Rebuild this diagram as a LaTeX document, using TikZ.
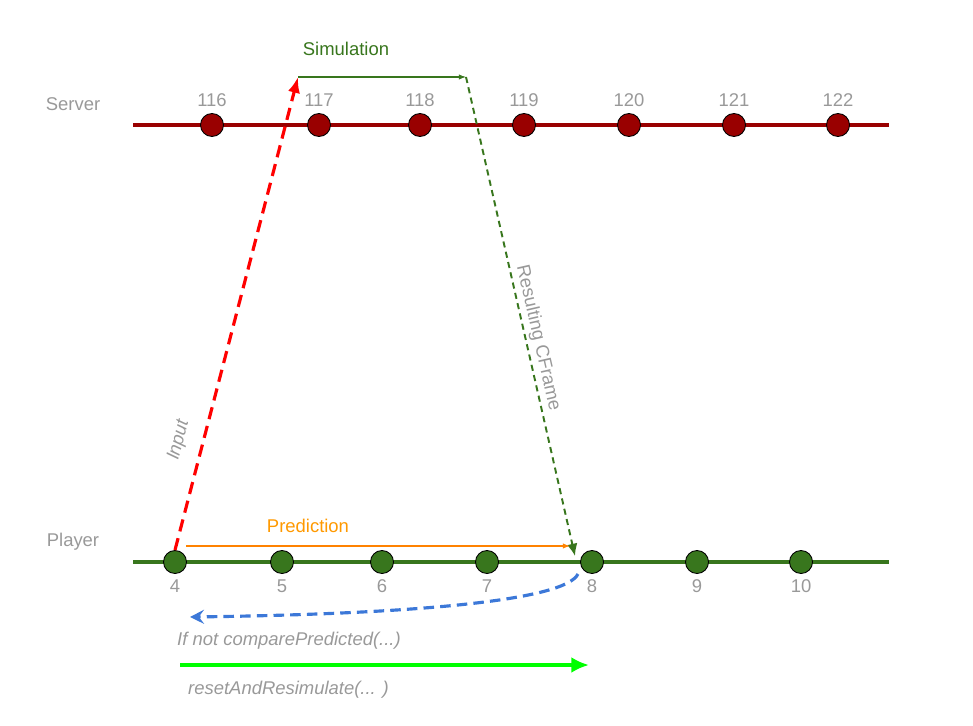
\documentclass[tikz,border=0pt]{standalone}
\usepackage{fontspec}
\setmainfont{Liberation Sans}
\usepackage{tikz}
\usetikzlibrary{arrows.meta}

\definecolor{srvred}{HTML}{990000}
\definecolor{plgreen}{HTML}{38761D}
\definecolor{txtgray}{HTML}{999999}
\definecolor{predorange}{HTML}{FF9900}
\definecolor{backblue}{HTML}{3C78D8}
\definecolor{resgreen}{HTML}{00FF00}

\tikzset{
  frame/.style={circle,draw=black,line width=.5pt,minimum size=.46cm,inner sep=0pt},
  lbl/.style={text=txtgray,font=\fontsize{10.5}{12}\selectfont},
}

\begin{document}
\begin{tikzpicture}[x=.02cm,y=-.02cm]
          \useasboundingbox (0,0) rectangle (973,726);

          % server timeline
          \node[lbl] (server) at (73,104) {Server};
          \draw[srvred,line width=2pt] (133,125) -- (889,125);
          \foreach \x/\n in {212/116,319/117,420/118,524/119,629/120,734/121,838/122}{
            \node[frame,fill=srvred] (s\n) at (\x,125) {};
            \node[lbl] at (\x,100) {\n};
          }

          % player timeline
          \node[lbl] (player) at (73,542) {Player};
          \draw[plgreen,line width=2pt] (133,562) -- (889,562);
          \foreach \x/\n in {175/4,282/5,382/6,487/7,592/8,697/9,801/10}{
            \node[frame,fill=plgreen] (p\n) at (\x,562) {};
            \node[lbl] at (\x,586) {\n};
          }

          % simulation on the server
          \coordinate (simstart) at (298,77);
          \coordinate (simend) at (466,77);
          \draw[plgreen,line width=.6pt,-{Latex[length=4pt,width=3pt]}] (simstart) -- (simend);
          \node[lbl,text=plgreen] (simlbl) at (346,49) {Simulation};

          % input
          \draw[red,line width=1.8pt,dash pattern=on 7pt off 4pt,-{Latex[length=9pt,width=7pt]}]
            (p4.north) -- (simstart);
          \node[lbl,rotate=75.7] (inputlbl) at (179,440) {\itshape Input};

          % resulting cframe
          \coordinate (cfend) at (575,556);
          \draw[plgreen,line width=1.1pt,dash pattern=on 3.5pt off 2.5pt,-{Latex[length=7pt,width=6pt]}]
            (simend) -- (cfend);
          \node[lbl,rotate=-77.1] (cflbl) at (538,338) {Resulting CFrame};

          % prediction
          \draw[predorange!85!red,line width=.6pt,-{Latex[length=4pt,width=3pt]}] (186,546) -- (570,546);
          \node[lbl,text=predorange] (predlbl) at (308,526) {Prediction};

          % compare and go back
          \coordinate (back) at (190,617);
          \draw[backblue,line width=1.8pt,dash pattern=on 6pt off 3.5pt,-{Stealth[length=8pt,width=8pt,inset=3pt]}]
            (578,574) .. controls (565,600) and (420,614) .. (back);
          \node[lbl,anchor=west] (cmplbl) at (171,641) {\itshape If not comparePredicted(...)};

          % resimulate
          \coordinate (rsstart) at (180,665);
          \coordinate (rsend) at (589,665);
          \draw[resgreen,line width=2.2pt,-{Latex[length=10pt,width=9pt]}] (rsstart) -- (rsend);
          \node[lbl,anchor=west] (rslbl) at (182,690) {\itshape resetAndResimulate(... )};

        \end{tikzpicture}
\end{document}
